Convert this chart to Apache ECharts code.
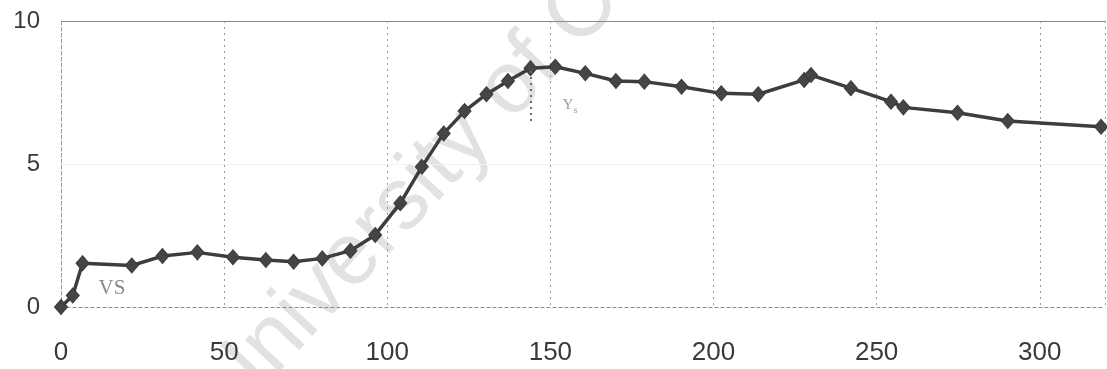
<!DOCTYPE html>
<html>
<head>
<meta charset="utf-8">
<script src="https://cdn.jsdelivr.net/npm/echarts@6/dist/echarts.min.js"></script>
<style>
  html, body { margin: 0; padding: 0; background: #fff; }
  #chart { width: 1107px; height: 369px; }
</style>
</head>
<body>
<div id="chart"></div>
<script>
// values
const xValues = [0, 3.6, 6.6, 21.7, 31.1, 41.8, 52.7, 62.8, 71.3, 80.1, 88.7, 96.3, 104, 110.6, 117.3,
    123.7, 130.4, 137, 143.9, 151.5, 160.7, 170.1, 178.8, 190.2, 202.4, 213.7, 227.8, 229.9, 242.1,
    254.4, 258.2, 274.8, 290.2, 318.8];
const yValues = [0, 0.4, 1.53, 1.45, 1.78, 1.91, 1.74, 1.64, 1.58, 1.7, 1.97, 2.52, 3.63, 4.9, 6.07,
    6.85, 7.44, 7.9, 8.35, 8.4, 8.17, 7.9, 7.88, 7.7, 7.47, 7.44, 7.94, 8.11, 7.65,
    7.18, 6.98, 6.79, 6.5, 6.3];
const xTicks = [0, 50, 100, 150, 200, 250, 300];
const yTicks = [0, 5, 10];
const vsLabel = { text: 'VS', coord: [15.6, 0.63] };
const ysLabel = { text: 'Y', sub: 's', coord: [156, 7.06] };
const ysMarker = [[143.9, 8.25], [143.9, 6.45]];

const points = xValues.map((x, i) => [x, yValues[i]]);

let chartElement = document.getElementById('chart');
let chart = echarts.init(chartElement, null, { renderer: 'canvas' });

const labelFont = 'Liberation Sans, Arial, sans-serif';

let option = {
    animation: false,
    backgroundColor: '#fff',
    grid: { left: 61, top: 21, right: 2, bottom: 62 },
    xAxis: {
        type: 'value',
        min: 0,
        max: 320,
        interval: 50,
        axisLine: { show: true, onZero: false, lineStyle: { color: '#8a8a8a', type: [3, 3], width: 1.2 } },
        axisTick: { show: false },
        axisLabel: {
            color: '#3a3a3a',
            fontSize: 26,
            fontFamily: labelFont,
            margin: 33,
            showMaxLabel: false,
            formatter: v => (xTicks.indexOf(v) >= 0 ? String(v) : '')
        },
        splitLine: { show: true, lineStyle: { color: '#9a9a9a', type: [2, 4], width: 1 } }
    },
    yAxis: {
        type: 'value',
        min: 0,
        max: 10,
        interval: 5,
        axisLine: { show: true, lineStyle: { color: '#9a9a9a', type: [2, 4], width: 1 } },
        axisTick: { show: false },
        axisLabel: {
            color: '#3a3a3a',
            fontSize: 24,
            fontFamily: labelFont,
            margin: 21,
            formatter: v => (yTicks.indexOf(v) >= 0 ? String(v) : '')
        },
        splitLine: {
            show: true,
            lineStyle: { color: ['rgba(0,0,0,0)', '#f1f1f1', '#8a8a8a'], width: 1.2 }
        }
    },
    graphic: [{
        type: 'text',
        z: -10,
        x: 246,
        y: 436,
        rotation: 47 * Math.PI / 180,
        style: {
            text: 'University of Cape Town',
            font: '88px Liberation Sans, Arial, sans-serif',
            fill: '#e2e2e2',
            textAlign: 'left',
            textVerticalAlign: 'bottom'
        }
    }],
    series: [{
        type: 'line',
        data: points,
        symbol: 'diamond',
        symbolSize: [13, 15],
        showAllSymbol: true,
        z: 3,
        lineStyle: { color: '#3d3d3d', width: 3.5 },
        itemStyle: { color: '#454545', borderColor: '#3a3a3a', borderWidth: 1 },
        markPoint: {
            symbol: 'circle',
            symbolSize: 0,
            silent: true,
            data: [
                {
                    coord: vsLabel.coord,
                    label: {
                        show: true,
                        formatter: vsLabel.text,
                        fontFamily: 'Liberation Serif, serif',
                        fontSize: 21,
                        color: '#8a8a8a'
                    }
                },
                {
                    coord: ysLabel.coord,
                    label: {
                        show: true,
                        formatter: '{a|' + ysLabel.text + '}{b|' + ysLabel.sub + '}',
                        rich: {
                            a: { fontFamily: 'Liberation Serif, serif', fontSize: 15, color: '#9a9a9a' },
                            b: { fontFamily: 'Liberation Serif, serif', fontSize: 10, color: '#9a9a9a', padding: [10, 0, 0, 0] }
                        }
                    }
                }
            ]
        },
        markLine: {
            symbol: 'none',
            silent: true,
            label: { show: false },
            lineStyle: { color: '#6a6a6a', type: [2, 4], width: 2 },
            data: [[{ coord: ysMarker[0] }, { coord: ysMarker[1] }]]
        }
    }]
};

chart.setOption(option);

const resizeObserver = new ResizeObserver(() => {
    chart.resize();
});
resizeObserver.observe(chartElement);
</script>
</body>
</html>
